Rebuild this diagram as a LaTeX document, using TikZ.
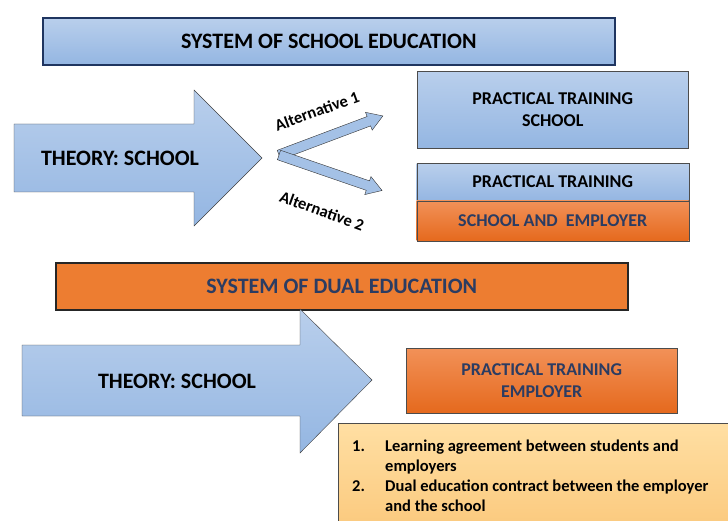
\documentclass[tikz,border=0pt]{standalone}
\usepackage{fontspec}
\setmainfont{Carlito}
\usepackage{xcolor}
\usetikzlibrary{positioning, calc, arrows.meta}

\definecolor{bluetop}{HTML}{B9CFEC}
\definecolor{bluebot}{HTML}{94B6E2}
\definecolor{orangetop}{HTML}{F29158}
\definecolor{orangebot}{HTML}{E5691D}
\definecolor{orangeflat}{HTML}{ED7D31}
\definecolor{sandtop}{HTML}{FFDFA3}
\definecolor{sandbot}{HTML}{FBC97D}
\definecolor{navy}{HTML}{1F3560}
\definecolor{slate}{HTML}{2B3C62}

\tikzset{
  bluebox/.style={draw=gray!60!black, top color=bluetop, bottom color=bluebot, align=center, inner sep=0pt, font=\bfseries\fontsize{18}{22}\selectfont},
  orangebox/.style={draw=gray!60!black, top color=orangetop, bottom color=orangebot, align=center, inner sep=0pt, text=slate, font=\bfseries\fontsize{18}{22}\selectfont},
  titlebox/.style={draw=navy, line width=1.6pt, inner sep=0pt, font=\bfseries\fontsize{22}{26}\selectfont},
  bigarrow/.style={draw=gray!50!black, top color=bluetop, bottom color=bluebot},
  altarrow/.style={draw=black!80, fill=bluebot!85!white, line join=miter},
  altlabel/.style={font=\bfseries\fontsize{16.5}{18}\selectfont, inner sep=0pt}
}

\begin{document}
\begin{tikzpicture}[x=1pt, y=-1pt]
  \useasboundingbox (0,0) rectangle (728,521);
  % school education
  \node[titlebox, top color=bluetop, bottom color=bluebot, minimum width=572, minimum height=47, anchor=north west] (school) at (42,17) {SYSTEM OF SCHOOL EDUCATION};
  \draw[bigarrow] (14,124)--(194,124)--(194,90)--(262,158)--(194,226)--(194,192)--(14,192)--cycle;
  \node[font=\bfseries\fontsize{22}{26}\selectfont] (theory1) at (120,158) {THEORY: SCHOOL};
  \coordinate (fork) at (279,155);
  \begin{scope}[shift={(fork)}, rotate=20.6]
    \draw[altarrow] (0,-5)--(96,-5)--(96,-9.5)--(111,0)--(96,9.5)--(96,5)--(0,5)--cycle;
  \end{scope}
  \begin{scope}[shift={(fork)}, rotate=-19]
    \draw[altarrow] (0,-5)--(94,-5)--(94,-9.5)--(109,0)--(94,9.5)--(94,5)--(0,5)--cycle;
  \end{scope}
  \node[altlabel, rotate=20] (alt1) at (317,111) {Alternative 1};
  \node[altlabel, rotate=-20] (alt2) at (322,211) {Alternative 2};
  \node[bluebox, minimum width=271, minimum height=77, anchor=north west] (ptschool) at (417,71) {PRACTICAL TRAINING\\SCHOOL};
  \node[bluebox, minimum width=272, minimum height=37, below=15pt of ptschool] (ptboth) {PRACTICAL TRAINING};
  \node[orangebox, minimum width=272, minimum height=40, below=0pt of ptboth] (employer1) {SCHOOL AND \ EMPLOYER};
  % dual education
  \node[titlebox, draw=black!85, fill=orangeflat, text=slate, minimum width=572, minimum height=47, anchor=north west] (dual) at (55,262) {SYSTEM OF DUAL EDUCATION};
  \draw[bigarrow] (22,345)--(300,345)--(300,309)--(372,380)--(300,453)--(300,416)--(22,416)--cycle;
  \node[font=\bfseries\fontsize{22}{26}\selectfont] (theory2) at (177,381) {THEORY: SCHOOL};
  \node[orangebox, minimum width=271, minimum height=65, anchor=north west] (employer2) at (406,348) {PRACTICAL TRAINING\\EMPLOYER};
  \draw[draw=gray!60!black, top color=sandtop, bottom color=sandbot] (338,423) rectangle (740,530);
  \node[anchor=north west, inner sep=0pt, font=\bfseries\fontsize{16.5}{20}\selectfont] (contract) at (352,437)
    {\begin{tabular}{@{}p{33pt}@{}l@{}}
      1. & Learning agreement between students and\\
         & employers\\
      2. & Dual education contract between the employer\\
         & and the school
    \end{tabular}};
\end{tikzpicture}
\end{document}
